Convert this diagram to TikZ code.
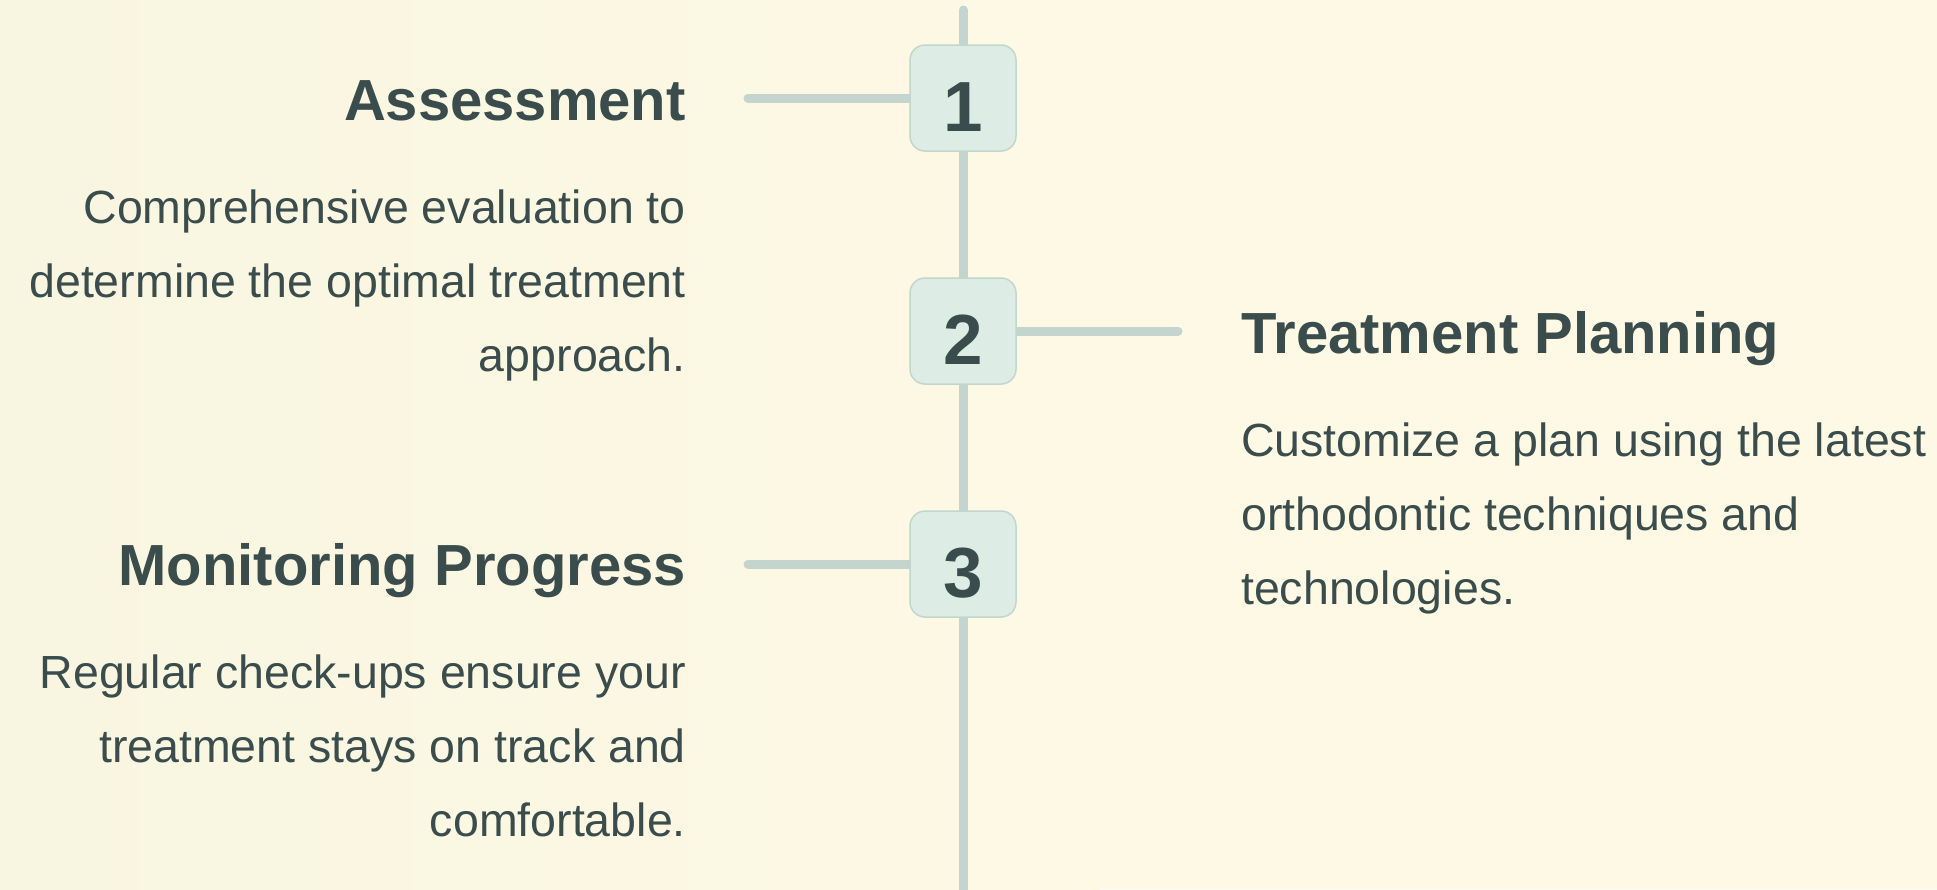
\documentclass[tikz,border=0pt]{standalone}
\usepackage{fontspec}
\setmainfont{Liberation Sans}
\usetikzlibrary{backgrounds}
\definecolor{bgcream}{HTML}{FDF9E4}
\definecolor{bgleft}{HTML}{F8F5E1}
\definecolor{txt}{HTML}{3A4C4C}
\definecolor{lineclr}{HTML}{C3D5CE}
\definecolor{boxfill}{HTML}{DDEDE6}
\definecolor{boxdraw}{HTML}{C2D6CE}
\pgfdeclarelayer{bg}
\pgfdeclarelayer{lines}
\pgfsetlayers{bg,lines,main}
\tikzset{
  stepnum/.style={draw=boxdraw, line width=1.5pt, fill=boxfill, rounded corners=15pt,
    minimum width=106pt, minimum height=106pt, inner sep=0pt},
  numtxt/.style={text=txt, font=\bfseries\fontsize{71}{71}\selectfont, inner sep=0pt, anchor=base},
  headtxt/.style={text=txt, font=\bfseries\fontsize{58}{68}\selectfont, inner sep=0pt},
  bodytxt/.style={text=txt, font=\fontsize{46.5}{74}\selectfont, inner sep=0pt},
  spine/.style={draw=lineclr, line width=9pt, line cap=round},
}
\begin{document}
\begin{tikzpicture}[x=1pt,y=-1pt]
\begin{pgfonlayer}{bg}
  \fill[bgcream] (0,0) rectangle (1937,889);
  \shade[left color=bgleft, right color=bgcream] (0,0) rectangle (1100,889);
\end{pgfonlayer}
\useasboundingbox (0,0) rectangle (1937,889);

% step boxes
\node[stepnum] (b1) at (963,98) {};
\node[stepnum] (b2) at (963,331) {};
\node[stepnum] (b3) at (963,564) {};
\node[numtxt] (n1) at (963,131) {1};
\node[numtxt] (n2) at (963,364) {2};
\node[numtxt] (n3) at (963,597) {3};

% connector end points
\coordinate (top) at (963,10);
\coordinate (bottom) at (963,900);
\coordinate (c1) at (748,98);
\coordinate (c2) at (1178,331);
\coordinate (c3) at (748,564);

\begin{pgfonlayer}{lines}
  \draw[spine] (top) -- (b1.center) -- (b2.center) -- (b3.center) -- (bottom);
  \draw[spine] (b1.center) -- (c1);
  \draw[spine] (b2.center) -- (c2);
  \draw[spine] (b3.center) -- (c3);
\end{pgfonlayer}

% texts (multi-line nodes: base anchor = last line baseline)
\node[headtxt, anchor=base east] (h1) at (686,120) {Assessment};
\node[bodytxt, anchor=base east, align=right] (t1) at (686,371)
  {Comprehensive evaluation to\\determine the optimal treatment\\approach.};
\node[headtxt, anchor=base west] (h2) at (1241,353) {Treatment Planning};
\node[bodytxt, anchor=base west, align=left] (t2) at (1241,604)
  {Customize a plan using the latest\\orthodontic techniques and\\technologies.};
\node[headtxt, anchor=base east] (h3) at (686,585) {Monitoring Progress};
\node[bodytxt, anchor=base east, align=right] (t3) at (686,836)
  {Regular check-ups ensure your\\treatment stays on track and\\comfortable.};
\end{tikzpicture}
\end{document}
